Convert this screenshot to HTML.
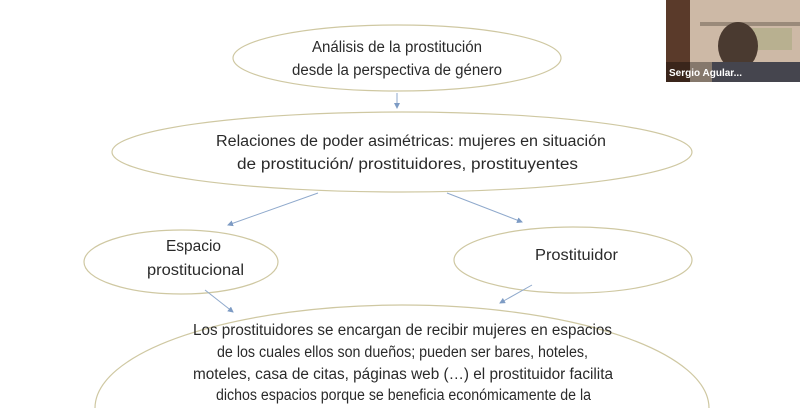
<!DOCTYPE html>
<html><head><meta charset="utf-8"><style>
html,body{margin:0;padding:0;background:#fff;width:800px;height:408px;overflow:hidden}
svg{display:block;overflow:hidden}
text{font-family:"Liberation Sans",sans-serif;font-size:15.5px;fill:#2a2a2a}
</style></head><body>
<svg width="800" height="408" viewBox="0 0 800 408">
<defs><marker id="a" markerWidth="6" markerHeight="6" refX="5" refY="3" orient="auto"><path d="M0,0 L6,3 L0,6 z" fill="#7d9bc4"/></marker>
<clipPath id="c"><rect x="0" y="0" width="800" height="408"/></clipPath></defs>
<g clip-path="url(#c)">
<g fill="none" stroke="#cfc8a2" stroke-width="1.2">
<ellipse cx="397" cy="58" rx="164" ry="33"/>
<ellipse cx="402" cy="152" rx="290" ry="40"/>
<ellipse cx="181" cy="262" rx="97" ry="32"/>
<ellipse cx="573" cy="260" rx="119" ry="33"/>
<path d="M95,408 A307,103 0 0 1 709,408"/>
</g>
<g stroke="#8fa9cc" stroke-width="1" marker-end="url(#a)">
<line x1="397" y1="93" x2="397" y2="108"/>
<line x1="318" y1="193" x2="228" y2="225"/>
<line x1="447" y1="193" x2="522" y2="222"/>
<line x1="205" y1="290" x2="233" y2="312"/>
<line x1="532" y1="285" x2="500" y2="303"/>
</g>
<text x="312" y="52" textLength="170" lengthAdjust="spacingAndGlyphs">Análisis de la prostitución</text>
<text x="292" y="75" textLength="210" lengthAdjust="spacingAndGlyphs">desde la perspectiva de género</text>
<text x="216" y="146" textLength="390" lengthAdjust="spacingAndGlyphs">Relaciones de poder asimétricas: mujeres en situación</text>
<text x="237" y="169" textLength="341" lengthAdjust="spacingAndGlyphs">de prostitución/ prostituidores, prostituyentes</text>
<text x="166" y="251" textLength="55" lengthAdjust="spacingAndGlyphs">Espacio</text>
<text x="147" y="275" textLength="97" lengthAdjust="spacingAndGlyphs">prostitucional</text>
<text x="535" y="260" textLength="83" lengthAdjust="spacingAndGlyphs">Prostituidor</text>
<text x="193" y="335" textLength="419" lengthAdjust="spacingAndGlyphs">Los prostituidores se encargan de recibir mujeres en espacios</text>
<text x="217" y="357" textLength="371" lengthAdjust="spacingAndGlyphs">de los cuales ellos son dueños; pueden ser bares, hoteles,</text>
<text x="193" y="379" textLength="420" lengthAdjust="spacingAndGlyphs">moteles, casa de citas, páginas web (…) el prostituidor facilita</text>
<text x="216" y="400" textLength="375" lengthAdjust="spacingAndGlyphs">dichos espacios porque se beneficia económicamente de la</text>
<g>
<rect x="666" y="0" width="134" height="82" fill="#cdb9a6"/>
<rect x="666" y="0" width="24" height="82" fill="#5a3a2a"/>
<rect x="700" y="22" width="100" height="4" fill="#9a8a7a"/>
<rect x="752" y="28" width="40" height="22" fill="#b8b090"/>
<ellipse cx="738" cy="46" rx="20" ry="24" fill="#4a3a30"/>
<rect x="712" y="62" width="88" height="20" fill="#6a6a78"/>
<rect x="666" y="62" width="134" height="20" fill="rgba(0,0,0,0.35)"/>
<text x="669" y="76" style="font-size:10px;font-weight:bold;fill:#fff">Sergio Agular...</text>
</g>
</g>
</svg>
</body></html>
